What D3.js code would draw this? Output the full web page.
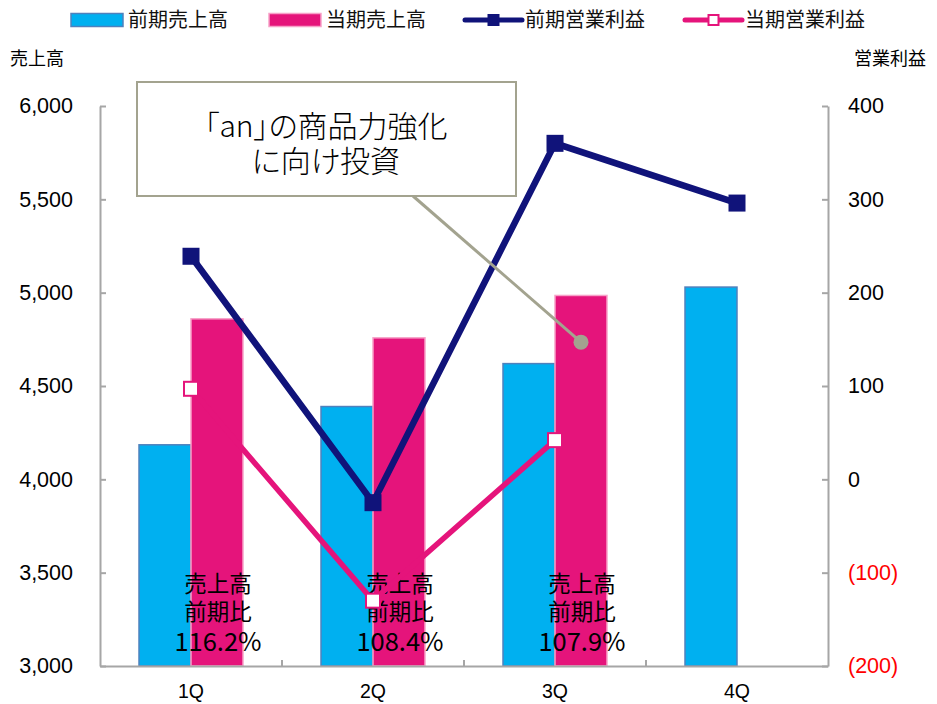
<!DOCTYPE html>
<html>
<head>
<meta charset="utf-8">
<script src="https://cdnjs.cloudflare.com/ajax/libs/d3/7.8.5/d3.min.js"></script>
<style>
body { margin: 0; background: #fff; }
svg text { font-family: "Noto Sans CJK JP", "Noto Sans", sans-serif; }
.num { font-family: "Liberation Sans", Arial, sans-serif; }
.palt { font-feature-settings: "palt"; }
</style>
</head>
<body>
<div id="chart"></div>
<script>
// data
var quarters = ['1Q', '2Q', '3Q', '4Q'];
var salesPrev = [4185, 4390, 4620, 5030];
var salesCur = [4860, 4758, 4985, null];
var profitPrev = [239, -25, 360, 296];
var profitCur = [97, -130, 42, null];
var ratioLabels = ['116.2%', '108.4%', '107.9%', null];
var salesTicks = [3000, 3500, 4000, 4500, 5000, 5500, 6000];
var profitTicks = [-200, -100, 0, 100, 200, 300, 400];
var calloutLines = ['「an」の商品力強化', 'に向け投資'];

var W = 937, H = 704;
var pL = 100, pR = 828, pT = 106, pB = 666;

var svg = d3.select('#chart').append('svg')
	.attr('width', W)
	.attr('height', H);

var x = d3.scaleBand().domain(quarters).range([pL, pR])
	.paddingInner(0.4286).paddingOuter(0.2143);
var xs = d3.scaleBand().domain(['prev', 'cur']).range([0, x.bandwidth()]);
var yL = d3.scaleLinear().domain([3000, 6000]).range([pB, pT]);
var yR = d3.scaleLinear().domain([-200, 400]).range([pB, pT]);
var gap = x.step() - x.bandwidth();

//bars
var barData = [];
quarters.forEach(function(q, i){
	barData.push({q: q, k: 'prev', v: salesPrev[i]});
	if (salesCur[i] != null) barData.push({q: q, k: 'cur', v: salesCur[i]});
});
svg.append('g').selectAll('rect').data(barData).enter().append('rect')
	.attr('x', function(d){ return x(d.q) + xs(d.k); })
	.attr('y', function(d){ return yL(d.v); })
	.attr('width', xs.bandwidth())
	.attr('height', function(d){ return yL(3000) - yL(d.v); })
	.attr('fill', function(d){ return d.k == 'prev' ? '#00b0f0' : '#e5147b'; })
	.attr('stroke', function(d){ return d.k == 'prev' ? '#4f81bd' : '#f7a1c8'; })
	.attr('stroke-width', 1.5);

//left axis
var axL = svg.append('g').attr('transform', 'translate(' + pL + ',0)')
	.call(d3.axisLeft(yL).tickValues(salesTicks).tickFormat(d3.format(','))
		.tickSizeInner(-6).tickSizeOuter(0).tickPadding(27));
//right axis
var axR = svg.append('g').attr('transform', 'translate(' + pR + ',0)')
	.call(d3.axisRight(yR).tickValues(profitTicks)
		.tickFormat(function(d){ return d < 0 ? '(' + (-d) + ')' : d; })
		.tickSizeInner(-6).tickSizeOuter(0).tickPadding(20));
[axL, axR].forEach(function(ax){
	ax.select('.domain').attr('stroke', '#a6a6a6').attr('stroke-width', 2);
	ax.selectAll('.tick line').attr('stroke', '#a6a6a6').attr('stroke-width', 2);
	ax.selectAll('.tick text').attr('class', 'num').style('font-size', '21.5px')
		.attr('fill', '#000');
});
axR.selectAll('.tick text').attr('fill', function(d){ return d < 0 ? '#ff0000' : '#000'; });

//bottom axis
var axB = svg.append('g').attr('transform', 'translate(0,' + pB + ')')
	.call(d3.axisBottom(x).tickSize(0).tickPadding(18));
axB.select('.domain').attr('stroke', '#a6a6a6').attr('stroke-width', 2);
axB.selectAll('.tick text').attr('class', 'num').style('font-size', '19.5px').attr('fill', '#000');
svg.append('g').selectAll('line').data(quarters.slice(1)).enter().append('line')
	.attr('x1', function(d){ return x(d) - gap / 2; })
	.attr('x2', function(d){ return x(d) - gap / 2; })
	.attr('y1', pB).attr('y2', pB - 6)
	.attr('stroke', '#a6a6a6').attr('stroke-width', 2);

//axis titles
svg.append('text').attr('x', 10).attr('y', 65).style('font-size', '18px').text('売上高');
svg.append('text').attr('x', 926).attr('y', 65).attr('text-anchor', 'end').style('font-size', '18px').text('営業利益');

//ratio annotations
var ann = svg.append('g').selectAll('g').data(ratioLabels.filter(function(d){ return d != null; }))
	.enter().append('g')
	.attr('transform', function(d, i){ return 'translate(' + (x(quarters[i]) + x.bandwidth() / 2 + 27) + ',0)'; });
ann.append('text').attr('y', 592).attr('text-anchor', 'middle').style('font-size', '22.5px').text('売上高');
ann.append('text').attr('y', 620).attr('text-anchor', 'middle').style('font-size', '22.5px').text('前期比');
ann.append('text').attr('y', 651).attr('text-anchor', 'middle').style('font-size', '25.5px').text(function(d){ return d; });

//lines
var cx = function(d, i){ return x(quarters[i]) + x.bandwidth() / 2; };
var linePrev = d3.line().x(cx).y(function(d){ return yR(d); });
var lineCur = d3.line().defined(function(d){ return d != null; }).x(cx).y(function(d){ return yR(d); });

svg.append('path').datum(profitPrev).attr('d', linePrev)
	.attr('fill', 'none').attr('stroke', '#10137a').attr('stroke-width', 6.5);
svg.append('g').selectAll('rect').data(profitPrev).enter().append('rect')
	.attr('x', function(d, i){ return cx(d, i) - 8.5; })
	.attr('y', function(d){ return yR(d) - 8.5; })
	.attr('width', 17).attr('height', 17).attr('fill', '#10137a');

svg.append('path').datum(profitCur).attr('d', lineCur)
	.attr('fill', 'none').attr('stroke', '#e5147b').attr('stroke-width', 5.5);
svg.append('g').selectAll('rect').data(profitCur.filter(function(d){ return d != null; })).enter().append('rect')
	.attr('x', function(d, i){ return cx(d, i) - 7; })
	.attr('y', function(d){ return yR(d) - 7; })
	.attr('width', 14).attr('height', 14)
	.attr('fill', '#fff').attr('stroke', '#e5147b').attr('stroke-width', 2);

//callout
var pt = [x('3Q') + x.bandwidth() * 0.75, yR(147)];
svg.append('line').attr('x1', 413).attr('y1', 196).attr('x2', pt[0]).attr('y2', pt[1])
	.attr('stroke', '#a3a38f').attr('stroke-width', 3);
svg.append('circle').attr('cx', pt[0]).attr('cy', pt[1]).attr('r', 7.5).attr('fill', '#a3a38f');
svg.append('rect').attr('x', 137).attr('y', 82).attr('width', 379).attr('height', 114)
	.attr('fill', '#fff').attr('stroke', '#a3a38f').attr('stroke-width', 2);
svg.append('g').selectAll('text').data(calloutLines).enter().append('text')
	.attr('class', 'palt')
	.attr('x', 326).attr('y', function(d, i){ return 137 + i * 35; })
	.attr('text-anchor', 'middle').style('font-size', '30px').style('font-weight', 300)
	.text(function(d){ return d; });

//legend
var legend = [
	{name: '前期売上高', type: 'bar', fill: '#00b0f0', stroke: '#4f81bd', x: 71},
	{name: '当期売上高', type: 'bar', fill: '#e5147b', stroke: '#f7a1c8', x: 269},
	{name: '前期営業利益', type: 'line', color: '#10137a', x: 465},
	{name: '当期営業利益', type: 'line', color: '#e5147b', x: 685}
];
var lg = svg.append('g').selectAll('g').data(legend).enter().append('g')
	.attr('transform', function(d){ return 'translate(' + d.x + ',20)'; });
lg.filter(function(d){ return d.type == 'bar'; }).append('rect')
	.attr('x', 0).attr('y', -6.5).attr('width', 52).attr('height', 13)
	.attr('fill', function(d){ return d.fill; }).attr('stroke', function(d){ return d.stroke; }).attr('stroke-width', 1.5);
lg.filter(function(d){ return d.type == 'line'; }).append('line')
	.attr('x1', 0).attr('x2', 57).attr('y1', 0).attr('y2', 0)
	.attr('stroke', function(d){ return d.color; }).attr('stroke-width', 5).attr('stroke-linecap', 'round');
lg.filter(function(d){ return d.type == 'line'; }).append('rect')
	.attr('x', 23.5).attr('y', -5).attr('width', 10).attr('height', 10)
	.attr('fill', function(d, i){ return i == 0 ? d.color : '#fff'; })
	.attr('stroke', function(d){ return d.color; }).attr('stroke-width', 2);
lg.append('text')
	.attr('x', function(d){ return d.type == 'bar' ? 57 : 60; })
	.attr('y', 7).style('font-size', '20px').attr('fill', '#111')
	.text(function(d){ return d.name; });
</script>
</body>
</html>
